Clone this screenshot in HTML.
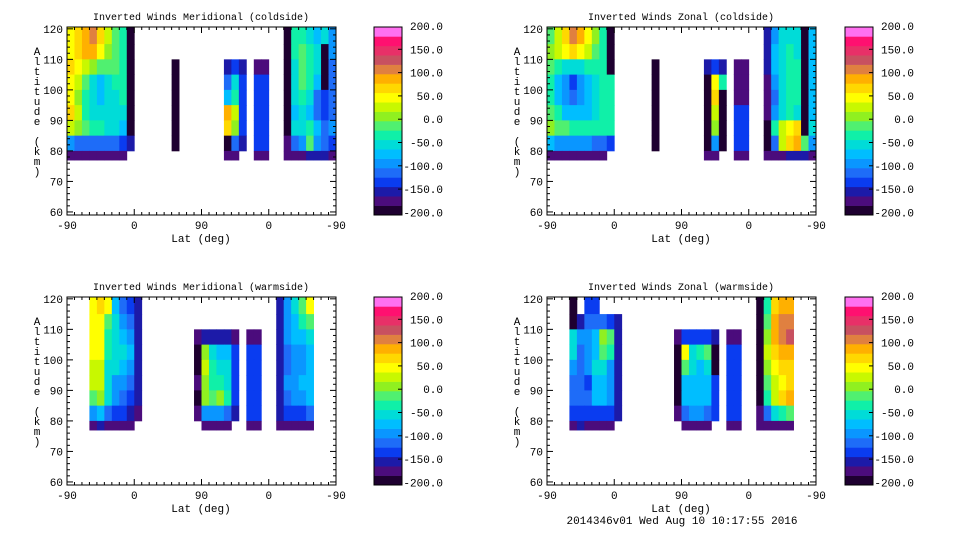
<!DOCTYPE html>
<html><head><meta charset="utf-8"><style>
html,body{margin:0;padding:0;background:#fff;}
svg{display:block;font-family:"Liberation Mono",monospace;}
</style></head><body>
<svg id="fig" width="960" height="540" viewBox="0 0 960 540" xmlns="http://www.w3.org/2000/svg"></svg>
<script>
// ---- data ----
const levelColors = ["#1e0030","#4b0c7c","#1c1aa8","#0a3cf0","#1e6cf8","#0a96ff","#00beff","#00dcd8","#10f0a8","#50f070","#90f020","#c8f800","#ffff00","#ffd800","#ffb000","#e08040","#c85060","#e83068","#ff1070","#ff70f0"];
const cbarLabels = ["200.0","150.0","100.0","50.0","0.0","-50.0","-100.0","-150.0","-200.0"];
const altEdges = [120.6,115,110,105,100,95,90,85,80,77];
const altTicks = [60,70,80,90,100,110,120];
const latTickLabels = ["-90","0","90","0","-90"];
const latTickPos = [0,90,180,270,360];
const panelTitles = ["Inverted Winds Meridional (coldside)","Inverted Winds Zonal (coldside)","Inverted Winds Meridional (warmside)","Inverted Winds Zonal (warmside)"];
// each row: 36 columns of 10 deg (track units), levels 0-9,a-j ; '.' = no data
const gridMerCold = [
"cdefdb980"+"....."+"."+"......"+"..."+"."+".."+".."+"0887675",
"cdeeca980"+"....."+"."+"......"+"..."+"."+".."+".."+"0898705",
"dcba99980"+"....."+"0"+"......"+"232"+"."+"11"+".."+"0798704",
"cb9767880"+"....."+"0"+"......"+"473"+"."+"33"+".."+"0798604",
"ca8767780"+"....."+"0"+"......"+"683"+"."+"33"+".."+"0787434",
"db8777770"+"....."+"0"+"......"+"eb3"+"."+"33"+".."+"0676434",
"ba9887760"+"....."+"0"+"......"+"da3"+"."+"33"+".."+"0778645",
"544444432"+"....."+"0"+"......"+"042"+"."+"33"+".."+"1459543",
"11111111."+"....."+"."+"......"+"11."+"."+"11"+".."+"1112221"];
const gridZonCold = [
"9bdfeca80"+"....."+"."+"......"+"..."+"."+".."+".."+"2577706",
"abcdcb980"+"....."+"."+"......"+"..."+"."+".."+".."+"2678706",
"987778880"+"....."+"0"+"......"+"232"+"."+"11"+".."+"2678806",
"865356788"+"....."+"0"+"......"+"0c8"+"."+"11"+".."+"1578806",
"865456788"+"....."+"0"+"......"+"0d0"+"."+"11"+".."+"1478806",
"986666788"+"....."+"0"+"......"+"0b0"+"."+"33"+".."+"1578706",
"a99888888"+"....."+"0"+"......"+"0a0"+"."+"33"+".."+"08bcd07",
"655555443"+"....."+"0"+"......"+"050"+"."+"33"+".."+"04bde95",
"11111111."+"....."+"."+"......"+"11."+"."+"11"+".."+"1112221"];
const gridMerWarm = [
"..."+"cdc6432"+"......."+"......"+"."+".."+".."+"2579c"+"...",
"..."+"cc97542"+"......."+"......"+"."+".."+".."+"25689"+"...",
"..."+"cc87652"+"......."+"122221"+"."+"11"+".."+"25667"+"...",
"..."+"cc87762"+"......."+"0a7663"+"."+"33"+".."+"24556"+"...",
"..."+"bb77652"+"......."+"0b8773"+"."+"33"+".."+"24556"+"...",
"..."+"bb75542"+"......."+"1a8873"+"."+"33"+".."+"25566"+"...",
"..."+"9a75432"+"......."+"0a9a83"+"."+"33"+".."+"24556"+"...",
"..."+"5643321"+"......."+"155542"+"."+"33"+".."+"23334"+"...",
"..."+"121111."+"......."+".1111."+"."+"11"+".."+"11111"+"..."];
const gridZonWarm = [
"..."+"0.33..."+"......."+"......"+"."+".."+".."+"08dee"+"...",
"..."+"0244432"+"......."+"......"+"."+".."+".."+"09eff"+"...",
"..."+"7556a92"+"......."+"133332"+"."+"11"+".."+"0aefg"+"...",
"..."+"7456982"+"......."+"0c7890"+"."+"33"+".."+"0bdee"+"...",
"..."+"5457752"+"......."+"097670"+"."+"33"+".."+"0acdd"+"...",
"..."+"4436652"+"......."+"066663"+"."+"33"+".."+"09bcd"+"...",
"..."+"4446652"+"......."+"066663"+"."+"33"+".."+"08bde"+"...",
"..."+"3333332"+"......."+"145543"+"."+"33"+".."+"14789"+"...",
"..."+"121111."+"......."+".1111."+"."+"11"+".."+"11111"+"..."];
const grids = [gridMerCold, gridZonCold, gridMerWarm, gridZonWarm];

// ---- drawing ----
const NS = "http://www.w3.org/2000/svg";
const svg = document.getElementById("fig");
function mk(tag, attrs, parent){ const e=document.createElementNS(NS,tag); for(const k in attrs) e.setAttribute(k,attrs[k]); (parent||svg).appendChild(e); return e; }
const offsets = [[0,0],[480,0],[0,270],[480,270]];
const PW = 269, PH = 188, PX = 67, PY = 27, ALT_MIN = 59, ALT_MAX = 120.6;

offsets.forEach((off, p) => {
  const ox = off[0], oy = off[1];
  const xS = u => ox + PX + u * PW / 360;
  const yS = a => oy + PY + (ALT_MAX - a) / (ALT_MAX - ALT_MIN) * PH;
  const g = mk("g", {});
  
  
  const t = mk("text", {x: ox+201, y: oy+20, "font-size": 10, "text-anchor":"middle"}, g);
  t.textContent = panelTitles[p];
  
  
  const cells = mk("g", {}, g);
  
  
  const grid = grids[p];
  grid.forEach((row, r) => {
    for (let c = 0; c < row.length; c++) {
      const ch = row[c];
      if (ch === ".") continue;
      const lvl = parseInt(ch, 20);
      const x0 = xS(c*10), x1 = xS(c*10+10);
      const y0 = yS(altEdges[r]), y1 = yS(altEdges[r+1]);
      const rc = mk("rect", {x:x0, y:y0, width:x1-x0+0.4, height:y1-y0+0.4, fill:levelColors[lvl]}, cells);
      
      
    }
  });
  const fr = mk("rect", {x:ox+PX, y:oy+PY, width:PW, height:PH, fill:"none", stroke:"#000", "stroke-width":1}, g);
  
  
  for (let a = 60; a <= 120; a += 2) {
    const len = a % 10 === 0 ? 6 : 3;
    mk("line", {x1:ox+PX, x2:ox+PX+len, y1:yS(a), y2:yS(a), stroke:"#000"}, g);
    mk("line", {x1:ox+PX+PW, x2:ox+PX+PW-len, y1:yS(a), y2:yS(a), stroke:"#000"}, g);
  }
  altTicks.forEach(a => {
    const tl = mk("text", {x: ox+63, y: yS(a)+4, "font-size": 11, "text-anchor":"end"}, g);
    tl.textContent = a;
    
    
  });
  for (let u = 0; u <= 360; u += 10) {
    const len = u % 90 === 0 ? 6 : 3;
    mk("line", {x1:xS(u), x2:xS(u), y1:oy+PY+PH, y2:oy+PY+PH-len, stroke:"#000"}, g);
    mk("line", {x1:xS(u), x2:xS(u), y1:oy+PY, y2:oy+PY+len, stroke:"#000"}, g);
  }
  latTickPos.forEach((u, i) => {
    const tl = mk("text", {x: xS(u), y: oy+229, "font-size": 11, "text-anchor":"middle"}, g);
    tl.textContent = latTickLabels[i];
    
    
  });
  const xl = mk("text", {x: ox+201, y: oy+242, "font-size": 11, "text-anchor":"middle"}, g);
  xl.textContent = "Lat (deg)";
  
  
  const yl = mk("text", {"font-size": 11, "text-anchor":"middle"}, g);
  
  
  "Altitude (km)".split("").forEach((ch, i) => {
    const ts = mk("tspan", {x: ox+37, y: oy+55+i*10}, yl);
    ts.textContent = ch === " " ? "\u00a0" : ch;
  });
  const cbx = ox + (p % 2 === 0 ? 374 : 365), cby = oy + 27, cbw = 28, cbh = 188;
  const cb = mk("g", {}, g);
  
  
  levelColors.forEach((col, i) => {
    const bh = cbh / levelColors.length;
    mk("rect", {x:cbx, y:cby+cbh-(i+1)*bh, width:cbw, height:bh+0.3, fill:col}, cb);
  });
  mk("rect", {x:cbx, y:cby, width:cbw, height:cbh, fill:"none", stroke:"#000"}, cb);
  cbarLabels.forEach((lab, i) => {
    const yy = oy + 26 + i * 23.3;
    if (i > 0 && i < 8) mk("line", {x1:cbx+cbw-4, x2:cbx+cbw, y1:yy, y2:yy, stroke:"#000"}, cb);
    const tl = mk("text", {x: cbx+69, y: yy+4, "font-size": 11, "text-anchor":"end"}, cb);
    tl.textContent = lab;
    
    
  });
});
const ft = mk("text", {x: 682, y: 524, "font-size": 11, "text-anchor":"middle"});
ft.textContent = "2014346v01 Wed Aug 10 10:17:55 2016";


</script>
</body></html>
